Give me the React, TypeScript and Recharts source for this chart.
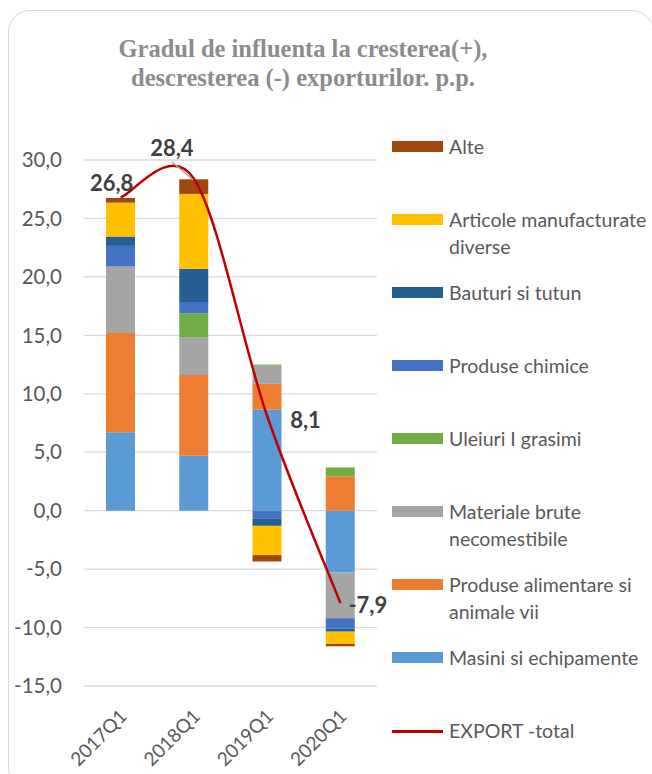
import React from 'react';
import { ComposedChart, Bar, Line, XAxis, YAxis, CartesianGrid, LabelList } from 'recharts';

const periods = ['2017Q1', '2018Q1', '2019Q1', '2020Q1'];
const masini = [6.7, 4.7, 8.65, -5.3];
const alimentare = [8.5, 6.9, 2.2, 2.95];
const materiale = [5.7, 3.2, 1.55, -3.9];
const uleiuri = [0, 2.1, 0.1, 0.75];
const chimice = [1.75, 0.95, -0.7, -0.9];
const bauturi = [0.8, 2.85, -0.6, -0.25];
const articole = [2.9, 6.4, -2.5, -1.05];
const alte = [0.4, 1.25, -0.55, -0.2];
const exportTotal = [26.8, 28.4, 8.1, -7.9];
const yTicks = [-15, -10, -5, 0, 5, 10, 15, 20, 25, 30];

const series = [
  { key: 'masini', name: 'Masini si echipamente', color: '#5B9BD5', values: masini },
  { key: 'alimentare', name: 'Produse alimentare si animale vii', color: '#ED7D31', values: alimentare },
  { key: 'materiale', name: 'Materiale brute necomestibile', color: '#A5A5A5', values: materiale },
  { key: 'uleiuri', name: 'Uleiuri I grasimi', color: '#70AD47', values: uleiuri },
  { key: 'chimice', name: 'Produse chimice', color: '#4472C4', values: chimice },
  { key: 'bauturi', name: 'Bauturi si tutun', color: '#255E91', values: bauturi },
  { key: 'articole', name: 'Articole manufacturate diverse', color: '#FFC000', values: articole },
  { key: 'alte', name: 'Alte', color: '#9E480E', values: alte },
];

const data = periods.map((period, i) => {
  const row: Record<string, string | number> = { period, total: exportTotal[i] };
  series.forEach((s) => {
    row[s.key] = s.values[i];
  });
  return row;
});

const FONT = 'Lato, "Open Sans", sans-serif';
const TEXT = '#595959';

const fmt = (v: number) => v.toFixed(1).replace('.', ',');

// excel-style smoothed line (catmull-rom, control points at 1/6 of neighbour span)
function excelSmooth(context: any) {
  let pts: number[][] = [];
  return {
    areaStart() {},
    areaEnd() {},
    lineStart() {
      pts = [];
    },
    point(x: number, y: number) {
      pts.push([+x, +y]);
    },
    lineEnd() {
      if (!pts.length) return;
      context.moveTo(pts[0][0], pts[0][1]);
      for (let i = 0; i < pts.length - 1; i++) {
        const p0 = pts[i - 1] || pts[i];
        const p1 = pts[i];
        const p2 = pts[i + 1];
        const p3 = pts[i + 2] || p2;
        context.bezierCurveTo(
          p1[0] + (p2[0] - p0[0]) / 6,
          p1[1] + (p2[1] - p0[1]) / 6,
          p2[0] - (p3[0] - p1[0]) / 6,
          p2[1] - (p3[1] - p1[1]) / 6,
          p2[0],
          p2[1],
        );
      }
    },
  };
}

function TotalLabel(props: any) {
  const { x, y, index, value } = props;
  const style = { fontFamily: FONT, fontWeight: 700, fontSize: 22, fill: '#404040' };
  const text = fmt(Number(value));
  if (index === 0) {
    return <text x={x - 9} y={y - 15} textAnchor="middle" dominantBaseline="central" style={style}>{text}</text>;
  }
  if (index === 1) {
    return (
      <g>
        <line x1={x - 22} y1={y - 17} x2={x - 1} y2={y + 1} stroke="#A6A6A6" strokeWidth={1.5} />
        <text x={x - 22} y={y - 31} textAnchor="middle" dominantBaseline="central" style={style}>{text}</text>
      </g>
    );
  }
  if (index === 2) {
    return <text x={x + 23} y={y + 4} textAnchor="start" dominantBaseline="central" style={style}>{text}</text>;
  }
  return <text x={x + 8} y={y + 1} textAnchor="start" dominantBaseline="central" style={style}>{text}</text>;
}

const legendItems = [
  ...series.slice().reverse().map((s) => ({ name: s.name, color: s.color, line: false })),
  { name: 'EXPORT -total', color: '#C00000', line: true },
];

export default function App() {
  return (
    <div style={{ position: 'fixed', left: 0, top: 0, width: 652, height: 774, overflow: 'hidden', background: '#fff' }}>
      <div
        style={{
          position: 'absolute', left: 8, top: 10, width: 646, height: 780,
          border: '1.5px solid #D9D9D9', borderRadius: 22, boxSizing: 'border-box',
        }}
      />
      <div
        style={{
          position: 'absolute', left: 0, top: 34, width: 606, textAlign: 'center',
          fontFamily: '"Liberation Serif", serif', fontWeight: 700, fontSize: 24.5, lineHeight: '29px', color: '#8C8C8C',
        }}
      >
        Gradul de influenta la cresterea(+),<br />descresterea (-) exporturilor. p.p.
      </div>
      <div style={{ position: 'absolute', left: 0, top: 0 }}>
        <ComposedChart
          width={390}
          height={774}
          data={data}
          stackOffset="sign"
          margin={{ top: 160, right: 13, bottom: 0, left: 0 }}
        >
          <CartesianGrid vertical={false} stroke="#D9D9D9" strokeWidth={1.3} />
          <XAxis
            dataKey="period"
            height={88}
            interval={0}
            tickLine={false}
            axisLine={false}
            tickMargin={16}
            angle={-45}
            textAnchor="end"
            dx={-2}
            tick={{ fill: TEXT, fontSize: 19, fontFamily: FONT }}
          />
          <YAxis
            width={84}
            domain={[-15, 30]}
            ticks={yTicks}
            tickFormatter={fmt}
            tickLine={false}
            axisLine={false}
            tickMargin={16}
            tick={{ fill: TEXT, fontSize: 20.5, fontFamily: FONT }}
          />
          {series.map((s) => (
            <Bar key={s.key} dataKey={s.key} name={s.name} stackId="a" fill={s.color} barSize={29} isAnimationActive={false} />
          ))}
          <Line
            type={excelSmooth as any}
            dataKey="total"
            name="EXPORT -total"
            stroke="#C00000"
            strokeWidth={2.5}
            dot={false}
            isAnimationActive={false}
          >
            <LabelList dataKey="total" content={<TotalLabel />} />
          </Line>
        </ComposedChart>
      </div>
      {legendItems.map((item, i) => (
        <div
          key={item.name}
          style={{ position: 'absolute', left: 392, top: 147 + 73 * i - 14, width: 260, fontFamily: FONT, fontSize: 19.5, lineHeight: '27px', color: TEXT }}
        >
          <div
            style={{
              position: 'absolute', left: 0, width: 51,
              top: item.line ? 13 : 8, height: item.line ? 2.5 : 11,
              background: item.color,
            }}
          />
          <div style={{ marginLeft: 57, width: 203 }}>{item.name}</div>
        </div>
      ))}
    </div>
  );
}
